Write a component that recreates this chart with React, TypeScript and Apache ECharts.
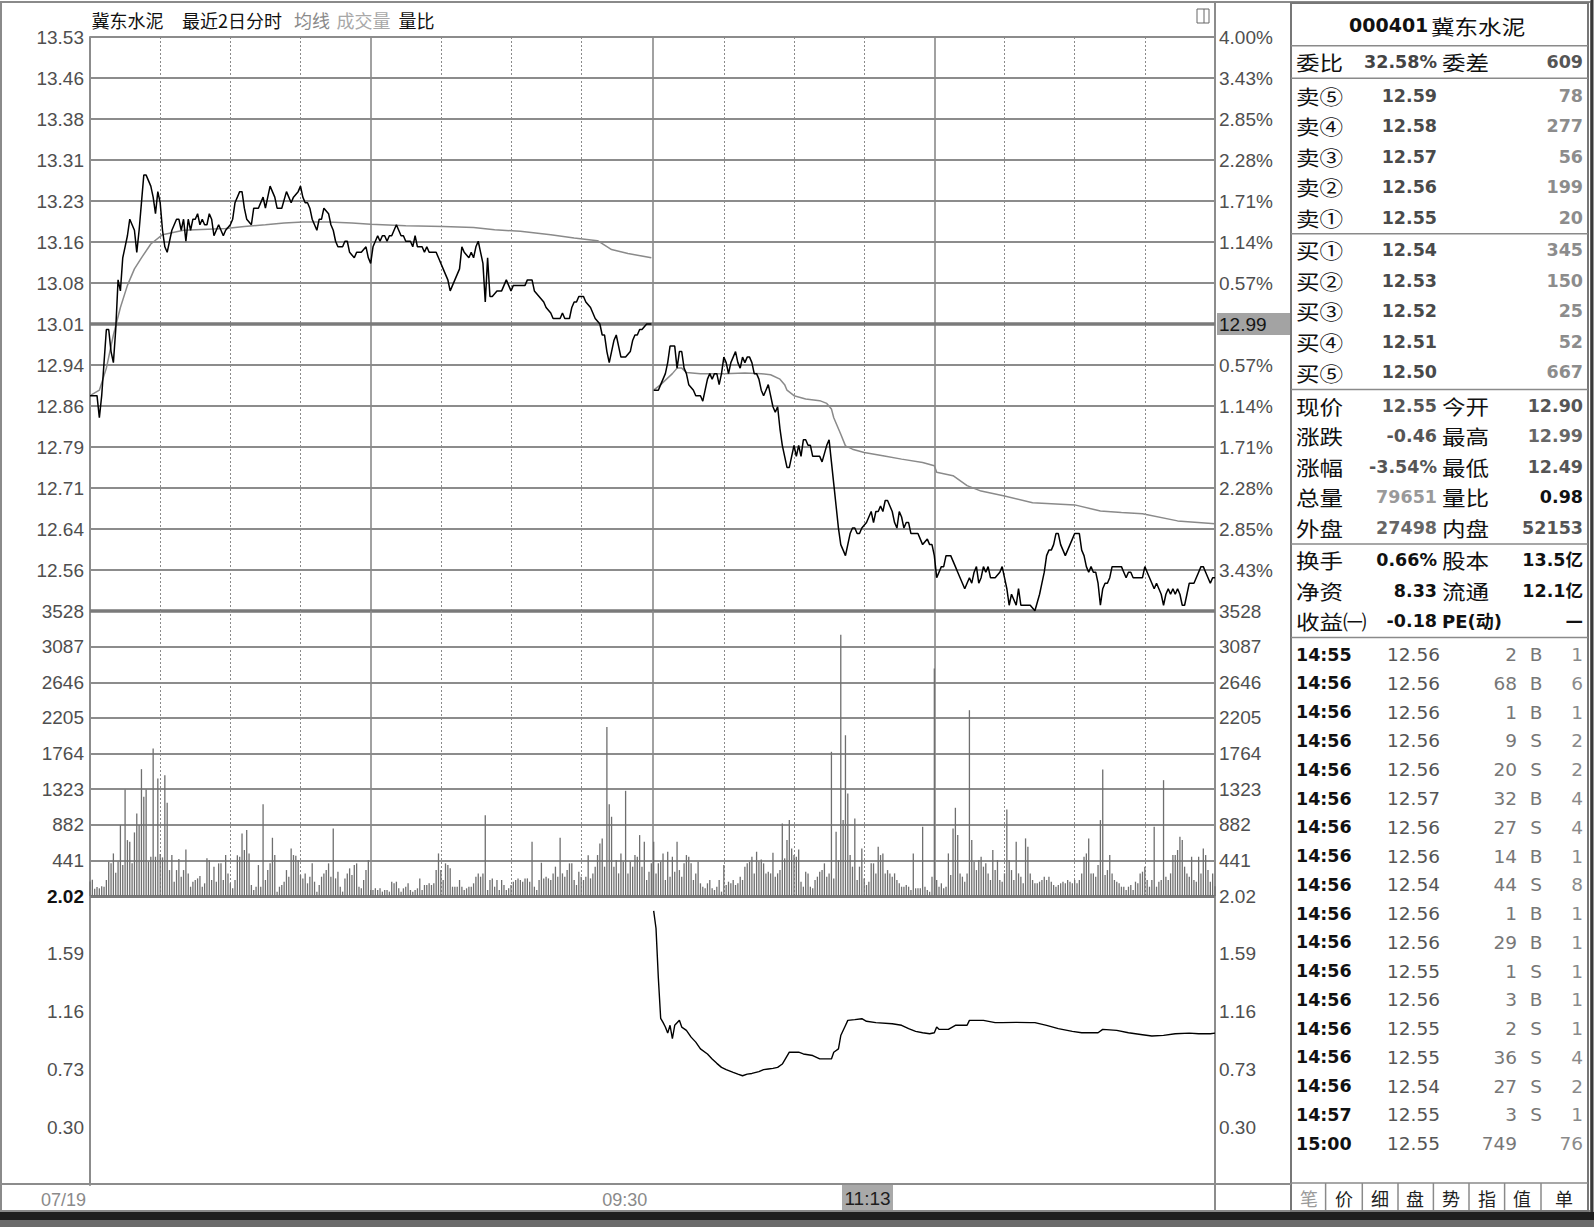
import React, { useEffect, useRef } from 'react';
import * as echarts from 'echarts';

// ================= DATA =================
const stockCode = '000401';
const stockName = '冀东水泥';
const headerWords = ['冀东水泥', '最近2日分时', '均线', '成交量', '量比'];
const prevClose = 13.01;
const topPct = 4.0;
const pctLabels = ['0.57%', '1.14%', '1.71%', '2.28%', '2.85%', '3.43%', '4.00%'];
const crossPrice = '12.99';
const crossTime = '11:13';
const dateLabels = ['07/19', '09:30'];
const volMax = 3528;
const volStep = 441;
const ratioMin = -0.13;
const ratioMax = 2.02;
const ratioStep = 0.43;
const DAY = 241; // minutes per session (09:30 .. 15:00)

// [minute, price] day 1 (07/19)
const day1Price = [
  [0,12.88],[3,12.88],[4,12.84],[5,12.88],[6,12.94],[7,13.00],[8,13.00],[9,12.96],[10,12.94],[11,13.00],
  [12,13.09],[13,13.07],[14,13.13],[15,13.15],[16,13.17],[17,13.20],[18,13.19],[19,13.18],[20,13.14],[21,13.18],
  [22,13.23],[23,13.28],[24,13.28],[25,13.27],[26,13.26],[27,13.24],[28,13.21],[29,13.25],[30,13.23],[31,13.18],
  [32,13.15],[33,13.14],[34,13.16],[35,13.18],[36,13.19],[37,13.20],[38,13.20],[39,13.18],[40,13.20],[41,13.16],
  [42,13.20],[43,13.18],[44,13.20],[45,13.20],[46,13.21],[47,13.19],[48,13.20],[49,13.19],[50,13.19],[51,13.21],
  [52,13.20],[53,13.17],[54,13.18],[55,13.19],[56,13.18],[57,13.17],[58,13.18],[60,13.19],[61,13.20],[62,13.23],
  [64,13.25],[65,13.25],[66,13.22],[67,13.20],[69,13.19],[70,13.22],[71,13.22],[72,13.22],[74,13.24],[75,13.22],
  [76,13.24],[77,13.26],[79,13.24],[80,13.22],[81,13.22],[82,13.22],[84,13.25],[85,13.24],[86,13.23],[87,13.24],
  [89,13.25],[90,13.26],[91,13.24],[92,13.23],[93,13.23],[94,13.22],[95,13.20],[97,13.18],[98,13.20],[99,13.20],
  [100,13.22],[102,13.21],[103,13.19],[104,13.18],[105,13.16],[106,13.15],[108,13.15],[109,13.16],[110,13.16],[111,13.14],
  [113,13.13],[114,13.14],[115,13.14],[116,13.14],[118,13.15],[119,13.13],[120,13.12],[121,13.15],[122,13.16],[123,13.17],
  [124,13.16],[125,13.17],[126,13.17],[127,13.16],[128,13.17],[129,13.17],[131,13.19],[132,13.18],[133,13.17],[134,13.17],
  [135,13.16],[137,13.16],[138,13.15],[139,13.17],[140,13.15],[142,13.15],[143,13.14],[144,13.15],[145,13.14],[146,13.14],
  [148,13.14],[149,13.13],[151,13.11],[152,13.10],[153,13.09],[154,13.07],[155,13.08],[156,13.09],[158,13.11],[159,13.15],
  [160,13.14],[162,13.13],[163,13.14],[164,13.13],[165,13.15],[166,13.16],[167,13.14],[168,13.12],[169,13.05],[170,13.13],
  [171,13.06],[172,13.06],[174,13.07],[175,13.07],[176,13.07],[177,13.08],[178,13.09],[180,13.07],[181,13.08],[182,13.08],
  [183,13.08],[184,13.08],[186,13.08],[187,13.09],[188,13.09],[189,13.09],[190,13.07],[192,13.06],[194,13.05],[195,13.04],
  [197,13.03],[198,13.02],[200,13.02],[201,13.02],[202,13.03],[203,13.02],[205,13.02],[206,13.04],[207,13.05],[208,13.05],
  [209,13.06],[211,13.06],[212,13.05],[214,13.04],[215,13.03],[216,13.02],[218,13.01],[219,12.99],[220,12.99],[221,12.96],
  [222,12.94],[223,12.96],[224,12.98],[225,12.99],[226,12.97],[227,12.95],[228,12.95],[229,12.95],[231,12.96],[232,12.98],
  [233,12.99],[234,12.99],[235,13.00],[236,13.00],[238,13.01],[240,13.01],
];

const day1Avg = [
  [0,12.88],[4,12.89],[7,12.93],[10,12.99],[13,13.04],[16,13.08],[19,13.11],[22,13.13],[26,13.155],[31,13.172],
  [40,13.18],[58,13.183],[66,13.187],[75,13.19],[83,13.193],[91,13.195],[102,13.195],[112,13.193],[120,13.191],
  [135,13.188],[151,13.187],[164,13.185],[173,13.181],[184,13.178],[197,13.172],[207,13.166],[217,13.161],
  [223,13.145],[230,13.138],[240,13.13],
];

// [minute, price] day 2
const day2Price = [
  [0,12.89],[2,12.89],[3,12.90],[4,12.91],[5,12.92],[6,12.94],[7,12.97],[8,12.97],[9,12.97],[10,12.93],
  [11,12.96],[12,12.96],[13,12.93],[14,12.92],[15,12.90],[17,12.89],[18,12.88],[20,12.88],[21,12.87],[22,12.89],
  [23,12.91],[24,12.92],[25,12.91],[26,12.92],[27,12.92],[28,12.90],[29,12.92],[30,12.95],[31,12.94],[32,12.92],
  [33,12.94],[34,12.95],[35,12.96],[36,12.94],[37,12.93],[38,12.95],[39,12.94],[40,12.95],[41,12.95],[42,12.94],
  [43,12.92],[44,12.92],[45,12.91],[46,12.89],[47,12.88],[48,12.89],[49,12.90],[50,12.88],[51,12.86],[52,12.85],
  [53,12.86],[54,12.82],[55,12.79],[56,12.77],[57,12.75],[58,12.75],[59,12.77],[60,12.79],[61,12.77],[62,12.79],
  [63,12.77],[64,12.80],[65,12.80],[66,12.79],[67,12.79],[68,12.77],[69,12.77],[70,12.77],[71,12.77],[72,12.76],
  [74,12.79],[75,12.80],[76,12.76],[77,12.72],[78,12.68],[79,12.64],[80,12.61],[81,12.60],[82,12.59],[83,12.61],
  [84,12.63],[85,12.64],[86,12.64],[87,12.63],[88,12.63],[89,12.64],[91,12.65],[92,12.66],[93,12.67],[94,12.65],
  [95,12.67],[96,12.67],[97,12.68],[98,12.67],[99,12.69],[100,12.69],[101,12.68],[102,12.67],[103,12.65],[104,12.64],
  [105,12.67],[106,12.66],[107,12.64],[108,12.65],[109,12.65],[110,12.63],[111,12.63],[113,12.63],[114,12.62],[115,12.61],
  [117,12.62],[118,12.61],[119,12.61],[120,12.59],[121,12.55],[122,12.56],[123,12.57],[124,12.57],[125,12.59],[126,12.59],
  [127,12.59],[128,12.58],[129,12.57],[130,12.56],[131,12.55],[132,12.54],[133,12.53],[134,12.54],[135,12.55],[136,12.54],
  [137,12.56],[138,12.57],[139,12.54],[140,12.55],[141,12.57],[142,12.56],[143,12.57],[144,12.55],[145,12.55],[146,12.55],
  [148,12.56],[149,12.57],[150,12.55],[151,12.53],[152,12.50],[153,12.52],[154,12.51],[155,12.50],[156,12.53],[157,12.50],
  [158,12.50],[159,12.50],[161,12.50],[163,12.49],[165,12.52],[166,12.54],[167,12.56],[168,12.59],[169,12.60],[170,12.60],
  [171,12.61],[172,12.63],[173,12.63],[174,12.61],[175,12.60],[176,12.59],[177,12.60],[178,12.61],[179,12.62],[180,12.63],
  [181,12.63],[182,12.63],[183,12.60],[184,12.59],[185,12.57],[186,12.56],[187,12.57],[188,12.56],[189,12.56],[190,12.54],
  [191,12.50],[192,12.53],[193,12.54],[194,12.54],[195,12.55],[196,12.57],[197,12.57],[199,12.57],[200,12.57],[201,12.56],
  [202,12.55],[203,12.56],[204,12.56],[205,12.55],[206,12.55],[208,12.55],[209,12.55],[210,12.57],[211,12.56],[212,12.55],
  [213,12.54],[214,12.53],[215,12.54],[216,12.53],[217,12.52],[218,12.50],[219,12.52],[220,12.53],[221,12.52],[222,12.53],
  [223,12.52],[224,12.53],[225,12.52],[226,12.50],[227,12.50],[228,12.52],[229,12.54],[230,12.54],[231,12.54],[232,12.55],
  [233,12.56],[234,12.57],[235,12.57],[236,12.56],[237,12.55],[238,12.54],[239,12.55],[240,12.55],
];

const day2Avg = [
  [0,12.89],[3,12.90],[8,12.92],[10,12.93],[12,12.93],[14,12.922],[20,12.92],[30,12.92],[39,12.921],[46,12.92],
  [50,12.918],[54,12.91],[56,12.90],[57,12.89],[60,12.88],[65,12.874],[71,12.871],[74,12.866],[76,12.856],[77,12.84],
  [80,12.81],[82,12.789],[85,12.783],[90,12.777],[98,12.771],[106,12.765],[115,12.759],[120,12.753],[121,12.741],
  [128,12.735],[134,12.717],[140,12.707],[150,12.698],[162,12.686],[180,12.682],[191,12.671],[200,12.668],
  [209,12.666],[224,12.653],[240,12.648],
];

// volume per minute (lots)
const day1Vol = [
  180,200,90,110,95,120,115,198,424,404,
  527,288,424,878,383,1319,692,672,404,787,
  1022,878,1570,1228,1319,424,486,1826,486,1455,
  519,478,1496,1154,321,507,177,321,457,239,
  321,577,280,115,177,198,218,247,115,157,
  466,445,198,363,177,404,404,198,507,280,
  157,95,198,503,486,775,569,816,527,136,
  74,115,383,115,1137,198,321,404,721,507,
  54,115,136,177,321,239,589,507,499,445,
  260,218,280,157,239,404,177,54,136,239,
  280,321,404,239,837,218,301,115,54,218,
  280,342,260,383,404,115,95,198,321,445,
  74,74,95,74,95,54,74,74,54,177,
  157,177,95,54,95,115,157,74,54,74,
  95,218,74,136,136,157,136,157,321,527,
  321,198,404,383,342,115,115,115,198,115,
  74,95,115,115,157,239,280,239,280,1001,
  74,198,218,115,198,74,198,136,74,95,
  136,177,198,218,198,177,218,218,177,672,
  115,74,198,412,218,239,218,198,280,363,
  239,721,280,239,321,404,404,198,136,301,
  239,198,239,503,218,280,363,507,651,713,
  363,2093,1137,981,363,445,280,527,424,1302,
  280,424,363,507,486,754,363,672,198,301,404,
];

const day2Vol = [
  672,280,404,424,527,198,548,239,486,300,
  672,321,239,404,507,486,404,198,280,424,
  157,115,95,157,198,95,74,115,198,54,
  383,136,177,157,198,136,157,239,198,363,
  404,424,486,280,548,424,453,404,280,301,
  280,536,239,280,321,898,466,692,940,589,
  507,486,577,177,115,301,280,115,95,198,
  239,301,321,404,239,280,1785,218,795,445,
  3235,940,1990,1269,507,363,960,198,363,589,
  218,136,177,404,404,280,610,507,527,280,
  321,280,239,280,198,157,115,115,136,115,
  74,527,95,95,95,857,115,74,54,239,
  2815,198,115,157,95,115,527,260,837,1092,
  754,280,239,177,280,2300,692,424,321,445,
  486,363,404,280,198,569,321,445,198,177,
  280,1071,445,321,198,672,280,239,157,713,
  610,280,198,157,157,177,198,239,198,239,
  177,136,115,136,157,177,157,198,177,157,
  198,157,198,280,486,527,713,280,280,239,
  383,940,1566,260,321,507,280,198,177,157,
  115,115,74,115,136,74,177,157,280,301,
  363,198,115,198,857,115,177,198,1434,239,
  198,280,507,507,569,733,692,363,280,239,
  486,198,177,486,280,589,507,321,177,280,120,
];

// [minute, volume ratio] day 2
const day2Ratio = [
  [0,1.91],[1,1.78],[2,1.41],[3,1.11],[4,1.08],[5,1.045],[6,1.00],[7,1.058],[8,0.958],[9,1.058],
  [11,1.095],[12,1.045],[14,1.02],[16,0.97],[18,0.933],[20,0.883],[23,0.845],[25,0.808],[27,0.775],[29,0.745],
  [31,0.728],[34,0.708],[36,0.695],[38,0.683],[40,0.695],[42,0.70],[45,0.713],[47,0.728],[49,0.733],[51,0.738],
  [53,0.745],[55,0.77],[58,0.858],[62,0.858],[64,0.845],[68,0.833],[71,0.808],[76,0.808],[77,0.858],[79,0.883],
  [80,0.982],[82,1.057],[83,1.095],[86,1.10],[89,1.107],[91,1.088],[95,1.078],[102,1.07],[106,1.058],[109,1.033],
  [112,1.013],[115,1.003],[118,0.995],[120,1.003],[121,1.045],[122,1.028],[126,1.028],[129,1.058],[134,1.058],[135,1.095],
  [141,1.095],[146,1.078],[149,1.078],[155,1.08],[161,1.078],[163,1.078],[168,1.058],[173,1.033],[179,1.013],[183,1.003],
  [190,1.003],[192,1.028],[198,1.02],[203,1.003],[209,0.988],[213,0.978],[218,0.983],[223,0.995],[229,1.0],[233,0.995],
  [238,0.995],[240,1.0],
];

// quote panel
const orderRatio = ['委比', '32.58%', '委差', '609'];
const sellRows = [['卖⑤','12.59','78'],['卖④','12.58','277'],['卖③','12.57','56'],['卖②','12.56','199'],['卖①','12.55','20']];
const buyRows = [['买①','12.54','345'],['买②','12.53','150'],['买③','12.52','25'],['买④','12.51','52'],['买⑤','12.50','667']];
const statRows = [
  ['现价','12.55','今开','12.90'],
  ['涨跌','-0.46','最高','12.99'],
  ['涨幅','-3.54%','最低','12.49'],
  ['总量','79651','量比','0.98'],
  ['外盘','27498','内盘','52153'],
];
const infoRows = [
  ['换手','0.66%','股本','13.5亿'],
  ['净资','8.33','流通','12.1亿'],
  ['收益㈠','-0.18','PE(动)','—'],
];
const trades = [
  ['14:55','12.56','2','B','1'],
  ['14:56','12.56','68','B','6'],
  ['14:56','12.56','1','B','1'],
  ['14:56','12.56','9','S','2'],
  ['14:56','12.56','20','S','2'],
  ['14:56','12.57','32','B','4'],
  ['14:56','12.56','27','S','4'],
  ['14:56','12.56','14','B','1'],
  ['14:56','12.54','44','S','8'],
  ['14:56','12.56','1','B','1'],
  ['14:56','12.56','29','B','1'],
  ['14:56','12.55','1','S','1'],
  ['14:56','12.56','3','B','1'],
  ['14:56','12.55','2','S','1'],
  ['14:56','12.55','36','S','4'],
  ['14:56','12.54','27','S','2'],
  ['14:57','12.55','3','S','1'],
  ['15:00','12.55','749','','76'],
];
const tabs = ['笔','价','细','盘','势','指','值','单'];

// ================= LAYOUT / STYLE =================
const NUMF = '"Liberation Sans", Arial, sans-serif';
const CJKF = '"Noto Sans CJK SC", "Noto Sans CJK JP", sans-serif';
const PANF = '"DejaVu Sans", "Noto Sans CJK SC", sans-serif';
const GRID_L = 90;
const GRID_W = 1125;
const PLOT_R = GRID_L + GRID_W;
const G0_T = 37, G0_H = 574;
const G1_T = 611, G1_H = 285;
const G2_T = 896, G2_H = 289;
const G2_B = G2_T + G2_H;
const GRIDC = '#8c8c8c';
const X_MAX = 2 * DAY - 1;

const PSTEP = (prevClose * topPct) / 100 / 7;
const PMIN = prevClose - 7 * PSTEP;
const PMAX = prevClose + 7 * PSTEP;
const PINT = PSTEP * (1 + 1e-12);

function T(x: number, y: number, text: string, font: string, fill: string, align = 'left', scaleX = 1) {
  return {
    type: 'text', x, y, scaleX, silent: true, z: 10,
    style: { text, font, fill, align, verticalAlign: 'middle', textAlign: align, textVerticalAlign: 'middle' },
  };
}
function L(x1: number, y1: number, x2: number, y2: number, stroke: string, lineWidth = 1) {
  return { type: 'line', silent: true, z: 9, shape: { x1, y1, x2, y2 }, style: { stroke, lineWidth } };
}
function R(x: number, y: number, width: number, height: number, style: any) {
  return { type: 'rect', silent: true, z: 8, shape: { x, y, width, height }, style };
}

function buildGraphic() {
  const g: any[] = [];
  // window frame & borders
  g.push(R(1, 2, 1590, 1209, { fill: 'none', stroke: '#8a8a8a', lineWidth: 2 }));
  g.push(L(PLOT_R, 3, PLOT_R, G0_T, GRIDC, 2));
  g.push(L(PLOT_R, G2_B, PLOT_R, 1211, GRIDC, 2));
  g.push(L(0, 1184, 1291, 1184, GRIDC, 2));
  g.push(R(0, 1212, 1594, 8, { fill: '#1f1f1f' }));
  g.push(R(0, 1220, 1594, 7, { fill: '#6b6b6b' }));
  g.push(L(1592, 0, 1592, 1212, '#3a3a3a', 3));

  // header
  const hx = [91.5, 182, 294, 336.5, 398.5];
  const hc = ['#111', '#111', '#8a8a8a', '#a8a8a8', '#111'];
  headerWords.forEach((w, i) => g.push(T(hx[i], 20, w, `18px ${CJKF}`, hc[i])));
  // small window icon
  g.push(R(1197, 9, 12, 14, { fill: '#fff', stroke: '#666', lineWidth: 1 }));
  g.push(L(1204, 9, 1204, 23, '#666', 1));

  // crosshair time label
  g.push(R(842, 1185, 51, 25, { fill: '#a9a9a9' }));
  g.push(T(867.5, 1198, crossTime, `19px ${NUMF}`, '#1e1e1e', 'center'));

  // quote panel frame
  const PL = 1291, PR = 1588;
  g.push(R(PL, 3, PR - PL, 1208, { fill: 'none', stroke: '#777', lineWidth: 2 }));
  [45.7, 78.3, 233.8, 389.4, 544, 637.4, 1183].forEach((y) => g.push(L(PL, y, PR, y, '#8a8a8a', 1.5)));

  const LBL = `20.5px ${CJKF}`;
  const SX = 1.15;
  const VALB = `bold 17.5px ${PANF}`;
  const VAL = `18.5px ${PANF}`;
  const c1 = 1296, v1 = 1437, c2 = 1442, v2 = 1583;

  g.push(T(1349, 25.4, stockCode, `bold 19px ${PANF}`, '#111'));
  g.push(T(1431, 25.4, stockName, LBL, '#111', 'left', SX));

  g.push(T(c1, 62, orderRatio[0], LBL, '#111', 'left', SX));
  g.push(T(v1, 62, orderRatio[1], VALB, '#444', 'right'));
  g.push(T(c2, 62, orderRatio[2], LBL, '#111', 'left', SX));
  g.push(T(v2, 62, orderRatio[3], VALB, '#555', 'right'));

  sellRows.forEach((r, i) => {
    const y = 95.6 + i * 30.5;
    g.push(T(c1, y, r[0], LBL, '#111', 'left', SX));
    g.push(T(v1, y, r[1], VALB, '#4a4a4a', 'right'));
    g.push(T(v2, y, r[2], VALB, '#8c8c8c', 'right'));
  });
  buyRows.forEach((r, i) => {
    const y = 250 + i * 30.6;
    g.push(T(c1, y, r[0], LBL, '#111', 'left', SX));
    g.push(T(v1, y, r[1], VALB, '#4a4a4a', 'right'));
    g.push(T(v2, y, r[2], VALB, '#8c8c8c', 'right'));
  });
  const statTone = [['#555', '#555'], ['#555', '#666'], ['#555', '#555'], ['#999', '#111'], ['#666', '#555']];
  statRows.forEach((r, i) => {
    const y = 405.6 + i * 30.5;
    g.push(T(c1, y, r[0], LBL, '#111', 'left', SX));
    g.push(T(v1, y, r[1], VALB, statTone[i][0], 'right'));
    g.push(T(c2, y, r[2], LBL, '#111', 'left', SX));
    g.push(T(v2, y, r[3], VALB, statTone[i][1], 'right'));
  });
  infoRows.forEach((r, i) => {
    const y = 560 + i * 30.5;
    g.push(T(c1, y, r[0], LBL, '#111', 'left', SX));
    g.push(T(v1, y, r[1], VALB, '#111', 'right'));
    if (i === 2) g.push(T(c2, y, r[2], `bold 18px ${PANF}`, '#111'));
    else g.push(T(c2, y, r[2], LBL, '#111', 'left', SX));
    g.push(T(v2, y, r[3], VALB, '#111', 'right'));
  });
  trades.forEach((r, i) => {
    const y = 654.7 + i * 28.76;
    g.push(T(c1, y, r[0], VALB, '#111'));
    g.push(T(1440, y, r[1], VAL, '#555', 'right'));
    g.push(T(1517, y, r[2], VAL, '#777', 'right'));
    if (r[3]) g.push(T(1536, y, r[3], VAL, '#777', 'center'));
    g.push(T(v2, y, r[4], VAL, '#8a8a8a', 'right'));
  });

  // tabs
  const tabSep = [1325.6, 1362.3, 1398, 1433.4, 1469, 1504.6, 1541];
  tabSep.forEach((x) => g.push(L(x, 1183, x, 1210, '#8a8a8a', 1.5)));
  const tabX = [1309, 1344, 1380, 1415, 1451, 1487, 1522, 1564];
  tabs.forEach((t, i) => g.push(T(tabX[i], 1197.5, t, `18px ${CJKF}`, i === 0 ? '#9a9a9a' : '#222', 'center')));
  return g;
}

function buildOption() {
  // vertical time grid lines (half hours), solid at mid-day and day boundary
  const halfHours = [30, 60, 90, 120, 150, 180, 210];
  const vLines: any[] = [];
  [0, 1].forEach((d) => {
    halfHours.forEach((h) => {
      const solid = h === 120;
      vLines.push({
        xAxis: d * DAY + h,
        lineStyle: solid ? { type: 'solid', color: '#8a8a8a', width: 1.6 } : { type: [2, 2], color: '#8a8a8a', width: 1 },
      });
    });
  });
  vLines.push({ xAxis: DAY - 0.5, lineStyle: { type: 'solid', color: '#8a8a8a', width: 1.6 } });

  const ml = (extra: any[]) => ({
    silent: true, symbol: ['none', 'none'], label: { show: false }, animation: false,
    emphasis: { disabled: true }, data: [...vLines, ...extra],
  });

  const lbl = (extra: any) => ({ fontFamily: NUMF, fontSize: 19, color: '#4f4f4f', ...extra });
  const axLine = { show: true, lineStyle: { color: GRIDC, width: 2 } };
  const split = { show: true, lineStyle: { color: GRIDC, width: 2 } };
  const noTick = { show: false };

  const xBase = (i: number, extra: any = {}) => ({
    type: 'value', gridIndex: i, min: 0, max: X_MAX, interval: 30,
    axisLine: { show: false }, axisTick: noTick, splitLine: { show: false }, axisLabel: { show: false }, ...extra,
  });

  const volData = [
    ...day1Vol.map((v, i) => [i, v]),
    ...day2Vol.map((v, i) => [i + DAY, v]),
  ];

  return {
    animation: false,
    backgroundColor: '#ffffff',
    grid: [
      { left: GRID_L, top: G0_T, width: GRID_W, height: G0_H },
      { left: GRID_L, top: G1_T, width: GRID_W, height: G1_H },
      { left: GRID_L, top: G2_T, width: GRID_W, height: G2_H },
    ],
    xAxis: [
      xBase(0),
      xBase(1),
      xBase(2, {
        axisLabel: {
          show: true, align: 'right', margin: 6, padding: [0, 4, 0, 0],
          fontFamily: NUMF, fontSize: 18, color: '#8a8a8a',
          formatter: (v: number) => (v === 0 ? dateLabels[0] : v === DAY - 1 ? dateLabels[1] : ''),
        },
      }),
    ],
    yAxis: [
      {
        type: 'value', gridIndex: 0, position: 'left', min: PMIN, max: PMAX, interval: PINT,
        axisLine: axLine, axisTick: noTick, splitLine: split,
        axisLabel: lbl({ margin: 6, showMinLabel: false, formatter: (v: number) => v.toFixed(2) }),
      },
      {
        type: 'value', gridIndex: 0, position: 'right', min: PMIN, max: PMAX, interval: PINT,
        axisLine: axLine, axisTick: noTick, splitLine: { show: false },
        axisLabel: lbl({
          margin: 2, showMinLabel: false,
          formatter: (v: number) => {
            const k = Math.round((v - prevClose) / PSTEP);
            if (k === 0) return `{box|${crossPrice}}`;
            return `{p|${pctLabels[Math.abs(k) - 1]}}`;
          },
          rich: {
            p: { fontFamily: NUMF, fontSize: 19, color: '#4f4f4f', padding: [0, 0, 0, 2] },
            box: {
              fontFamily: NUMF, fontSize: 19, color: '#161616', backgroundColor: '#a3a3a3',
              width: 71, height: 22, lineHeight: 22, padding: [0, 0, 0, 2],
            },
          },
        }),
      },
      {
        type: 'value', gridIndex: 1, position: 'left', min: 0, max: volMax, interval: volStep,
        axisLine: axLine, axisTick: noTick, splitLine: split,
        axisLabel: lbl({ margin: 6, showMinLabel: false, formatter: (v: number) => String(v) }),
      },
      {
        type: 'value', gridIndex: 1, position: 'right', min: 0, max: volMax, interval: volStep,
        axisLine: axLine, axisTick: noTick, splitLine: { show: false },
        axisLabel: lbl({ margin: 4, showMinLabel: false, formatter: (v: number) => String(v) }),
      },
      {
        type: 'value', gridIndex: 2, position: 'left', min: ratioMin, max: ratioMax, interval: ratioStep,
        axisLine: axLine, axisTick: noTick, splitLine: { show: false },
        axisLabel: lbl({
          margin: 6, showMinLabel: false,
          formatter: (v: number) => (Math.abs(v - ratioMax) < 1e-6 ? `{b|${v.toFixed(2)}}` : v.toFixed(2)),
          rich: { b: { fontFamily: NUMF, fontSize: 19, fontWeight: 'bold', color: '#111' } },
        }),
      },
      {
        type: 'value', gridIndex: 2, position: 'right', min: ratioMin, max: ratioMax, interval: ratioStep,
        axisLine: axLine, axisTick: noTick, splitLine: { show: false },
        axisLabel: lbl({
          margin: 4, showMinLabel: false,
          formatter: (v: number) => v.toFixed(2),
        }),
      },
    ],
    series: [
      {
        type: 'line', xAxisIndex: 0, yAxisIndex: 0, data: day1Price, symbol: 'none', z: 5,
        lineStyle: { color: '#000', width: 1.5 },
        markLine: ml([
          { yAxis: prevClose, lineStyle: { type: 'solid', color: '#7a7a7a', width: 3.5 } },
          { yAxis: PMIN, lineStyle: { type: 'solid', color: '#7a7a7a', width: 3.5 } },
        ]),
      },
      {
        type: 'line', xAxisIndex: 0, yAxisIndex: 0, data: day1Avg, symbol: 'none', z: 4,
        lineStyle: { color: '#8a8a8a', width: 1.5 },
      },
      {
        type: 'line', xAxisIndex: 0, yAxisIndex: 0, symbol: 'none', z: 5,
        data: day2Price.map(([n, p]) => [n + DAY, p]),
        lineStyle: { color: '#000', width: 1.5 },
      },
      {
        type: 'line', xAxisIndex: 0, yAxisIndex: 0, symbol: 'none', z: 4,
        data: day2Avg.map(([n, p]) => [n + DAY, p]),
        lineStyle: { color: '#8a8a8a', width: 1.5 },
      },
      {
        type: 'bar', xAxisIndex: 1, yAxisIndex: 2, data: volData, barWidth: 1.3, z: 5,
        itemStyle: { color: '#6f6f6f' },
        markLine: ml([
          { yAxis: 0, lineStyle: { type: 'solid', color: '#7a7a7a', width: 3 } },
        ]),
      },
      {
        type: 'line', xAxisIndex: 2, yAxisIndex: 4, symbol: 'none', z: 5,
        data: day2Ratio.map(([n, r]) => [n + DAY, r]),
        lineStyle: { color: '#000', width: 1.4 },
      },
    ],
    graphic: buildGraphic(),
  };
}

export default function App() {
  const ref = useRef<HTMLDivElement>(null);
  useEffect(() => {
    document.body.style.margin = '0';
    document.body.style.background = '#ffffff';
    const chart = echarts.init(ref.current as HTMLDivElement, undefined, { renderer: 'svg' });
    chart.setOption(buildOption() as any);
    return () => chart.dispose();
  }, []);
  return <div ref={ref} style={{ width: 1594, height: 1227 }} />;
}
